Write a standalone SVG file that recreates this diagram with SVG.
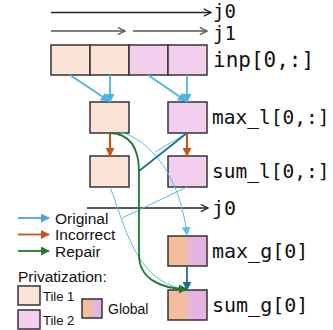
<svg xmlns="http://www.w3.org/2000/svg" width="333" height="330" viewBox="0 0 333 330">
  <style>
    .t1 { fill: #fbe3d6; stroke: #333; stroke-width: 1.5; }
    .t2 { fill: #f2cfee; stroke: #333; stroke-width: 1.5; }
    .gl { fill: url(#glob); stroke: #333; stroke-width: 1.5; }
    .mono { font-family: "DejaVu Sans Mono", monospace; fill: #111; }
    .sans { font-family: "Liberation Sans", Arial, sans-serif; fill: #111; }
    .iter { fill: none; stroke-width: 1.3; }
    .orig { fill: none; stroke: #4db3e6; stroke-width: 1.8; }
    .origthin { fill: none; stroke: #5bbde9; stroke-width: 1; }
    .inc { fill: none; stroke: #c4561a; stroke-width: 2.2; }
    .rep { fill: none; stroke: #1f7a30; stroke-width: 1.8; }
    .teal { fill: none; stroke: #1f6f90; stroke-width: 1.8; }
  </style>
  <defs>
    <linearGradient id="glob" x1="0" y1="0" x2="1" y2="0">
      <stop offset="0" stop-color="#f4bd9b"/>
      <stop offset="0.4" stop-color="#f4bd9b"/>
      <stop offset="0.6" stop-color="#e6b3e3"/>
      <stop offset="1" stop-color="#e6b3e3"/>
    </linearGradient>
    <marker id="aBlue" viewBox="0 0 10 10" refX="9" refY="5" markerWidth="9" markerHeight="9" markerUnits="userSpaceOnUse" orient="auto">
      <path d="M0,0 L10,5 L0,10 z" fill="#4db3e6"/>
    </marker>
    <marker id="aBlueThin" viewBox="0 0 10 10" refX="9" refY="5" markerWidth="9" markerHeight="9" markerUnits="userSpaceOnUse" orient="auto">
      <path d="M0,0 L10,5 L0,10 z" fill="#5bbde9"/>
    </marker>
    <marker id="aOrange" viewBox="0 0 10 10" refX="9" refY="5" markerWidth="9" markerHeight="9" markerUnits="userSpaceOnUse" orient="auto">
      <path d="M0,0 L10,5 L0,10 z" fill="#c4561a"/>
    </marker>
    <marker id="aGreen" viewBox="0 0 10 10" refX="9" refY="5" markerWidth="9" markerHeight="9" markerUnits="userSpaceOnUse" orient="auto">
      <path d="M0,0 L10,5 L0,10 z" fill="#1f7a30"/>
    </marker>
    <marker id="aTeal" viewBox="0 0 10 10" refX="9" refY="5" markerWidth="9" markerHeight="9" markerUnits="userSpaceOnUse" orient="auto">
      <path d="M0,0 L10,5 L0,10 z" fill="#1f6f90"/>
    </marker>
    <marker id="aLegBlue" viewBox="0 0 10 10" refX="9" refY="5" markerWidth="9" markerHeight="9" markerUnits="userSpaceOnUse" orient="auto">
      <path d="M0,0 L10,5 L0,10 z" fill="#4a9fe0"/>
    </marker>
    <marker id="aOpen" viewBox="0 0 10 10" refX="9" refY="5" markerWidth="9" markerHeight="9" markerUnits="userSpaceOnUse" orient="auto">
      <path d="M1,1 L9,5 L1,9" fill="none" stroke="#222" stroke-width="1.4"/>
    </marker>
    <marker id="aOpenGray" viewBox="0 0 10 10" refX="9" refY="5" markerWidth="9" markerHeight="9" markerUnits="userSpaceOnUse" orient="auto">
      <path d="M1,1 L9,5 L1,9" fill="none" stroke="#555" stroke-width="1.4"/>
    </marker>
  </defs>

  <!-- loop iteration axes -->
  <g id="iter-j0-top">
    <line class="iter" x1="51" y1="12.5" x2="211" y2="12.5" stroke="#222" marker-end="url(#aOpen)"/>
    <text class="mono" x="213" y="17.5" font-size="19">j0</text>
  </g>
  <g id="iter-j1">
    <line class="iter" x1="51" y1="31" x2="125" y2="31" stroke="#555" marker-end="url(#aOpenGray)"/>
    <line class="iter" x1="133" y1="31" x2="207" y2="31" stroke="#555" marker-end="url(#aOpenGray)"/>
    <text class="mono" x="213" y="39.5" font-size="19">j1</text>
  </g>

  <!-- input row -->
  <g id="inp">
    <rect class="t1" x="51" y="45" width="39" height="30"/>
    <rect class="t1" x="90" y="45" width="39" height="30"/>
    <rect class="t2" x="129" y="45" width="39" height="30"/>
    <rect class="t2" x="168" y="45" width="39" height="30"/>
    <text class="mono" x="213" y="67" font-size="21">inp[0,:]</text>
  </g>

  <g id="max_l">
    <rect class="t1" x="90" y="102" width="39" height="31"/>
    <rect class="t2" x="168" y="102" width="39" height="31"/>
    <text class="mono" x="212" y="124" font-size="19.5">max_l[0,:]</text>
  </g>

  <g id="sum_l">
    <rect class="t1" x="90" y="156" width="39" height="31"/>
    <rect class="t2" x="168" y="156" width="39" height="31"/>
    <text class="mono" x="212" y="178" font-size="19.5">sum_l[0,:]</text>
  </g>

  <g id="iter-j0-bottom">
    <line class="iter" x1="87" y1="208" x2="208" y2="208" stroke="#222" marker-end="url(#aOpen)"/>
    <text class="mono" x="212" y="215" font-size="20">j0</text>
  </g>

  <g id="max_g">
    <rect class="gl" x="168" y="236" width="39" height="30"/>
    <text class="mono" x="212" y="258" font-size="20">max_g[0]</text>
  </g>

  <g id="sum_g">
    <rect class="gl" x="168" y="290" width="39" height="30"/>
    <text class="mono" x="212" y="312" font-size="20">sum_g[0]</text>
  </g>

  <!-- dependency edges -->
  <g id="connectors">
    <line class="orig" x1="70" y1="75" x2="109" y2="101" marker-end="url(#aBlue)"/>
    <line class="orig" x1="110" y1="75" x2="110" y2="102" marker-end="url(#aBlue)"/>
    <line class="orig" x1="148" y1="75" x2="186" y2="101" marker-end="url(#aBlue)"/>
    <line class="orig" x1="187" y1="75" x2="187" y2="102" marker-end="url(#aBlue)"/>

    <line class="inc" x1="110" y1="133" x2="110" y2="156" marker-end="url(#aOrange)"/>
    <line class="inc" x1="187" y1="133" x2="187" y2="156" marker-end="url(#aOrange)"/>

    <path class="origthin" d="M120,132 C150,140 180,175 187,235" marker-end="url(#aBlueThin)"/>
    <line class="origthin" x1="187" y1="133" x2="155" y2="152"/>
    <path class="origthin" d="M110,187 C125,225 135,280 183,289"/>
    <line class="origthin" x1="187" y1="187" x2="122" y2="218"/>

    <path class="rep" d="M110,133 C132,134 139,150 139,172 L139,255 C139,278 160,289 187,289" marker-end="url(#aGreen)"/>
    <line class="teal" x1="187" y1="133" x2="139" y2="171"/>
    <line class="teal" x1="187" y1="266" x2="187" y2="290" marker-end="url(#aTeal)"/>
  </g>

  <!-- legend -->
  <g id="legend">
    <line x1="18" y1="218" x2="49" y2="218" stroke="#4a9fe0" stroke-width="1.8" marker-end="url(#aLegBlue)"/>
    <text class="sans" x="55" y="223.5" font-size="15.5">Original</text>
    <line x1="18" y1="234.5" x2="49" y2="234.5" stroke="#c4561a" stroke-width="1.8" marker-end="url(#aOrange)"/>
    <text class="sans" x="55" y="240" font-size="15.5">Incorrect</text>
    <line x1="18" y1="251" x2="49" y2="251" stroke="#1f7a30" stroke-width="1.8" marker-end="url(#aGreen)"/>
    <text class="sans" x="55" y="256.5" font-size="15.5">Repair</text>
    <text class="sans" x="18" y="282" font-size="15.5">Privatization:</text>
    <rect class="t1" x="18" y="286" width="22" height="19"/>
    <text class="sans" x="43" y="300.5" font-size="13">Tile 1</text>
    <rect class="t2" x="18" y="310" width="22" height="19"/>
    <text class="sans" x="43" y="325" font-size="13">Tile 2</text>
    <rect class="gl" x="82" y="299" width="20" height="19"/>
    <text class="sans" x="108" y="313.5" font-size="14">Global</text>
  </g>
</svg>
